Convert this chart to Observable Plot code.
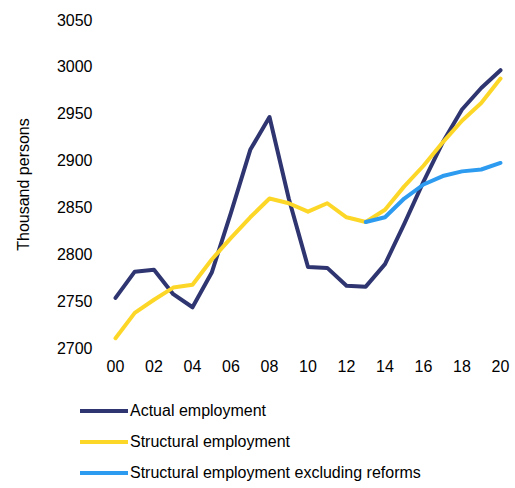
<!DOCTYPE html>
<html><head><meta charset="utf-8">
<script src="https://cdn.jsdelivr.net/npm/d3@7"></script>
<script src="https://cdn.jsdelivr.net/npm/@observablehq/plot@0.6"></script>
<style>
body{margin:0;background:#fff;font-family:"Liberation Sans",Arial,sans-serif;}
.leg{margin-left:80px;margin-top:17px;font-size:16px;color:#000;}
.leg div{display:flex;align-items:center;height:31px;}
.leg span{display:inline-block;width:48px;height:4px;margin-right:2px;}
</style></head><body>
<div id="chart"></div>
<div class="leg" id="leg"></div>
<script>
const years = d3.range(0, 21);
const actual = [2754,2782,2784,2758,2744,2781,2845,2912,2947,2860,2787,2786,2767,2766,2790,2833,2878,2920,2955,2978,2997];
const structural = [2711,2738,2752,2765,2768,2795,2818,2840,2860,2855,2846,2855,2840,2835,2848,2873,2895,2920,2943,2962,2988];
const exYears = d3.range(13, 21);
const excluding = [2835,2840,2860,2875,2884,2889,2891,2898];
const series = [
  {name:"Actual employment", color:"#2e3570"},
  {name:"Structural employment", color:"#fdd728"},
  {name:"Structural employment excluding reforms", color:"#2d9bf0"}
];
const rows = [
  ...years.map((x,i)=>({x, y:actual[i], s:series[0].name})),
  ...years.map((x,i)=>({x, y:structural[i], s:series[1].name})),
  ...exYears.map((x,i)=>({x, y:excluding[i], s:series[2].name}))
];
const chart = Plot.plot({
  width: 515, height: 378,
  marginLeft: 112, marginRight: 12, marginTop: 20, marginBottom: 30,
  style:{fontFamily:"Liberation Sans, Arial, sans-serif", fontSize:"16px", color:"#000"},
  x:{domain:[0,20], inset:3, ticks:d3.range(0,21,2), tickFormat:d=>String(d).padStart(2,"0"), tickSize:0, tickPadding:12, label:null},
  y:{domain:[2700,3050], ticks:d3.range(2700,3051,50), tickFormat:d=>String(d), tickSize:0, tickPadding:20, label:"Thousand persons", labelAnchor:"center", labelArrow:"none", labelOffset:95},
  color:{domain:series.map(d=>d.name), range:series.map(d=>d.color)},
  marks:[
    Plot.line(rows,{x:"x", y:"y", stroke:"s", strokeWidth:4})
  ]
});
document.getElementById("chart").append(chart);
const leg = document.getElementById("leg");
series.forEach(s=>{
  const d=document.createElement("div");
  d.innerHTML=`<span style="background:${s.color}"></span>${s.name}`;
  leg.append(d);
});
</script>
</body></html>
